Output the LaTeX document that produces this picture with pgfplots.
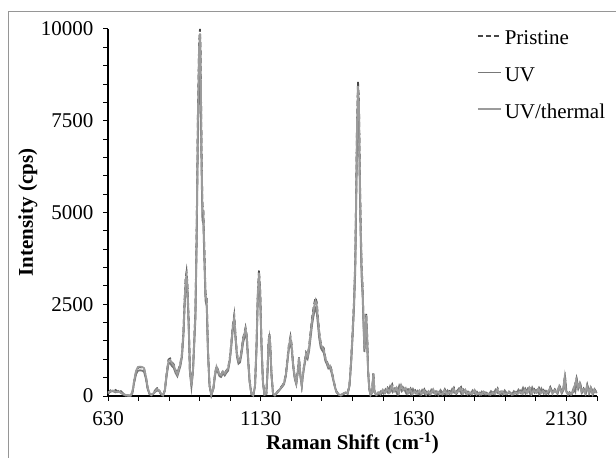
\documentclass[border=0pt]{standalone}
\usepackage{pgfplots}
\pgfplotsset{compat=1.18}
\usepackage{pgfplotstable}
\usepackage{fontspec}
\setmainfont{Liberation Serif}
\definecolor{cP}{RGB}{70,70,70}
\definecolor{cU}{RGB}{120,120,120}
\definecolor{cT}{RGB}{155,155,155}
\definecolor{frm}{RGB}{150,150,150}
\newcommand\fs{\fontsize{21bp}{25bp}\selectfont}

\pgfplotstableread{
x y
630 80
638 150
646 110
655 160
663 90
672 130
680 60
688 20
696 0
704 10
710 100
716 420
722 660
728 770
735 790
742 770
748 740
754 520
760 210
766 60
772 20
778 80
785 160
791 210
797 170
803 60
810 20
816 160
822 620
828 990
833 1020
839 920
845 860
851 700
857 600
862 760
867 900
872 1160
877 1800
881 2700
884 3200
887 3380
890 3050
894 2050
898 720
903 280
908 720
912 1500
916 2300
920 4500
924 7600
928 9600
931 10000
933 9400
936 6800
939 5200
942 5050
945 4100
949 2800
953 2650
957 1300
962 320
968 30
975 220
980 600
985 820
990 700
995 600
1000 580
1006 680
1012 620
1018 700
1023 760
1028 1000
1033 1400
1038 1900
1043 2200
1047 1700
1052 1150
1057 960
1062 1000
1067 1250
1072 1580
1076 1700
1080 1860
1084 1650
1088 1100
1093 450
1099 60
1105 20
1111 280
1116 1400
1120 2800
1124 3420
1128 2900
1132 1500
1137 400
1142 40
1148 60
1152 700
1155 1450
1158 1700
1161 1400
1165 600
1170 60
1176 20
1182 90
1188 150
1194 220
1200 280
1206 360
1212 600
1217 1000
1222 1400
1227 1620
1231 1400
1236 850
1241 520
1246 360
1251 700
1255 1050
1259 620
1264 300
1268 620
1273 920
1278 1180
1283 1100
1288 1350
1293 1750
1298 2150
1304 2480
1309 2680
1313 2550
1317 2150
1321 1750
1326 1450
1331 1350
1336 1300
1341 1050
1346 950
1351 820
1356 850
1361 720
1366 520
1371 320
1377 130
1384 50
1392 20
1400 60
1408 110
1414 80
1420 300
1425 900
1430 1700
1435 2600
1439 3700
1442 5600
1445 7600
1448 8560
1451 8100
1454 6100
1457 4600
1460 3500
1463 3000
1466 2150
1469 1300
1472 1750
1475 2250
1478 1650
1481 720
1485 210
1489 30
1494 100
1498 650
1502 120
1508 30
1515 80
1522 40
1530 150
1537 90
1545 220
1552 120
1560 310
1567 150
1575 260
1582 100
1590 330
1597 180
1605 240
1612 90
1620 200
1627 60
1635 150
1642 40
1650 120
1657 70
1665 180
1672 30
1680 110
1687 60
1695 200
1702 50
1710 140
1717 90
1725 60
1732 180
1740 40
1747 130
1755 70
1762 220
1770 60
1777 150
1785 240
1792 80
1800 190
1807 40
1815 110
1822 60
1830 180
1837 30
1845 90
1852 50
1860 140
1867 40
1875 70
1882 30
1890 100
1897 60
1905 200
1912 50
1920 150
1927 80
1935 40
1942 120
1950 60
1957 30
1965 110
1972 50
1980 140
1987 70
1995 200
2002 90
2010 250
2017 60
2025 180
2032 100
2040 220
2047 80
2055 160
2062 50
2070 120
2077 240
2085 70
2092 180
2100 90
2107 290
2114 110
2120 200
2125 560
2129 150
2135 60
2140 100
2146 30
2152 120
2158 300
2163 480
2168 250
2174 380
2180 120
2186 200
2192 80
2198 300
2204 100
2210 250
2216 60
2222 180
2228 100
}\pristine

\pgfplotstableread{
x y
630 60
638 120
646 130
655 100
663 140
672 90
680 40
688 10
696 20
704 0
710 80
716 380
722 600
728 690
735 700
742 690
748 660
754 470
760 180
766 50
772 30
778 60
785 120
791 150
797 140
803 50
810 10
816 140
822 560
828 880
833 900
839 820
845 770
851 630
857 540
862 680
867 820
872 1060
877 1650
881 2500
884 2950
887 3080
890 2800
894 1900
898 660
903 250
908 650
912 1380
916 2100
920 4100
924 6900
928 8600
931 8900
933 8400
936 6200
939 4800
942 4700
945 3800
949 2600
953 2450
957 1200
962 280
968 20
975 200
980 540
985 740
990 640
995 540
1000 520
1006 620
1012 560
1018 640
1023 690
1028 920
1033 1300
1038 1780
1043 2050
1047 1580
1052 1060
1057 880
1062 920
1067 1150
1072 1450
1076 1580
1080 1720
1084 1530
1088 1020
1093 400
1099 50
1105 10
1111 250
1116 1300
1120 2600
1124 3150
1128 2680
1132 1380
1137 360
1142 30
1148 50
1152 640
1155 1330
1158 1560
1161 1290
1165 550
1170 50
1176 10
1182 70
1188 130
1194 190
1200 250
1206 320
1212 540
1217 920
1222 1290
1227 1470
1231 1280
1236 780
1241 470
1246 320
1251 640
1255 960
1259 560
1264 270
1268 560
1273 840
1278 1080
1283 1010
1288 1230
1293 1600
1298 1960
1304 2250
1309 2380
1313 2280
1317 1940
1321 1580
1326 1320
1331 1240
1336 1180
1341 960
1346 870
1351 750
1356 770
1361 650
1366 470
1371 290
1377 110
1384 40
1392 10
1400 50
1408 90
1414 60
1420 260
1425 820
1430 1560
1435 2400
1439 3400
1442 5200
1445 7000
1448 7900
1451 7500
1454 5600
1457 4200
1460 3200
1463 2750
1466 1950
1469 1200
1472 1600
1475 2050
1478 1500
1481 650
1485 180
1489 20
1494 80
1498 560
1502 100
1508 20
1516 60
1523 130
1531 70
1538 180
1546 90
1553 260
1561 110
1568 200
1576 60
1583 280
1591 130
1598 210
1606 70
1613 170
1621 50
1628 190
1636 80
1643 140
1651 40
1658 160
1666 60
1673 120
1681 40
1688 170
1696 90
1703 130
1711 30
1718 160
1726 80
1733 50
1741 150
1748 60
1756 190
1763 90
1771 130
1778 200
1786 60
1793 170
1801 70
1808 120
1816 40
1823 150
1831 60
1838 110
1846 30
1853 120
1861 50
1868 90
1876 40
1883 130
1891 60
1898 170
1906 80
1913 120
1921 40
1928 150
1936 60
1943 90
1951 30
1958 130
1966 60
1973 170
1981 80
1988 220
1996 70
2003 190
2011 60
2018 230
2026 90
2033 160
2041 50
2048 200
2056 70
2063 140
2071 60
2078 210
2086 90
2093 150
2101 60
2108 250
2115 80
2121 180
2126 470
2130 120
2136 40
2141 90
2147 50
2153 200
2159 110
2164 420
2169 200
2175 320
2181 90
2187 170
2193 60
2199 260
2205 80
2211 200
2217 50
2223 160
2229 80
}\uv

\pgfplotstableread{
x y
630 100
638 130
646 150
655 120
663 110
672 100
680 50
688 30
696 10
704 20
710 120
716 440
722 690
728 790
735 800
742 790
748 760
754 540
760 230
766 70
772 30
778 70
785 140
791 190
797 160
803 70
810 30
816 150
822 600
828 960
833 990
839 900
845 840
851 690
857 590
862 740
867 880
872 1130
877 1760
881 2650
884 3150
887 3300
890 3000
894 2000
898 700
903 270
908 700
912 1470
916 2250
920 4400
924 7500
928 9500
931 9880
933 9300
936 6700
939 5100
942 5000
945 4050
949 2750
953 2600
957 1280
962 300
968 40
975 210
980 590
985 800
990 690
995 590
1000 570
1006 670
1012 610
1018 690
1023 750
1028 990
1033 1380
1038 1870
1043 2150
1047 1670
1052 1130
1057 950
1062 990
1067 1230
1072 1550
1076 1680
1080 1830
1084 1630
1088 1090
1093 440
1099 70
1105 30
1111 270
1116 1380
1120 2750
1124 3360
1128 2850
1132 1480
1137 390
1142 50
1148 60
1152 690
1155 1420
1158 1660
1161 1380
1165 590
1170 70
1176 30
1182 80
1188 140
1194 210
1200 270
1206 350
1212 590
1217 980
1222 1380
1227 1580
1231 1370
1236 830
1241 510
1246 350
1251 690
1255 1030
1259 610
1264 290
1268 610
1273 900
1278 1160
1283 1080
1288 1320
1293 1720
1298 2100
1304 2420
1309 2600
1313 2480
1317 2100
1321 1710
1326 1420
1331 1330
1336 1270
1341 1030
1346 930
1351 800
1356 830
1361 700
1366 510
1371 310
1377 120
1384 50
1392 30
1400 70
1408 100
1414 70
1420 290
1425 880
1430 1670
1435 2560
1439 3650
1442 5500
1445 7500
1448 8450
1451 8000
1454 6000
1457 4550
1460 3450
1463 2950
1466 2100
1469 1280
1472 1720
1475 2200
1478 1620
1481 700
1485 200
1489 40
1494 90
1498 620
1502 110
1508 40
1514 100
1521 50
1529 170
1536 80
1544 200
1551 100
1559 280
1566 130
1574 230
1581 80
1589 300
1596 160
1604 220
1611 70
1619 180
1626 50
1634 130
1641 60
1649 150
1656 50
1664 160
1671 40
1679 130
1686 50
1694 180
1701 60
1709 120
1716 70
1724 40
1731 160
1739 50
1746 110
1754 60
1761 200
1769 70
1776 130
1784 210
1791 70
1799 170
1806 50
1814 100
1821 50
1829 160
1836 40
1844 80
1851 40
1859 120
1866 50
1874 60
1881 40
1889 90
1896 50
1904 180
1911 60
1919 130
1926 70
1934 50
1941 110
1949 50
1956 40
1964 100
1971 60
1979 120
1986 60
1994 180
2001 80
2009 220
2016 50
2024 160
2031 90
2039 200
2046 70
2054 140
2061 60
2069 110
2076 210
2084 60
2091 160
2099 80
2106 260
2113 100
2119 180
2124 500
2128 140
2134 50
2139 90
2145 40
2151 110
2157 270
2162 440
2167 230
2173 350
2179 110
2185 180
2191 70
2197 280
2203 90
2209 230
2215 50
2221 170
2227 90
}\uvthermal

\begin{document}
\begin{tikzpicture}
\useasboundingbox (0bp,0bp) rectangle (616bp,458bp);
\draw[frm, line width=1bp] (8bp,-5bp) -- (8bp,446.5bp) -- (625bp,446.5bp);
\begin{axis}[
  at={(108bp,62bp)}, anchor=south west,
  scale only axis, width=489bp, height=367bp,
  xmin=630, xmax=2230, ymin=0, ymax=10000,
  clip=false,
  axis x line=bottom, axis y line=left,
  axis line style={-, line width=1.2bp, black},
  xtick={630,1130,1630,2130},
  minor xtick={730,830,930,1030,1230,1330,1430,1530,1730,1830,1930,2030,2230},
  ytick={0,2500,5000,7500,10000},
  minor ytick={500,1000,1500,2000,3000,3500,4000,4500,5500,6000,6500,7000,8000,8500,9000,9500},
  tick align=outside, major tick length=5bp, minor tick length=5bp,
  tick style={black, line width=1bp},
  scaled y ticks=false, scaled x ticks=false,
  /pgf/number format/assume math mode=true,
  xticklabel style={font=\fs, yshift=-7bp, /pgf/number format/1000 sep={}},
  yticklabel style={font=\fs, xshift=-6bp, /pgf/number format/fixed, /pgf/number format/1000 sep={}},
  xlabel={\textbf{Raman Shift (cm\textsuperscript{-1})}},
  ylabel={\textbf{Intensity (cps)}},
  xlabel style={font=\fs, at={(axis description cs:0.5,-0.1471)}, anchor=base},
  ylabel style={font=\fs, at={(axis description cs:-0.1534,0.5)}, anchor=base},
  legend style={at={(axis description cs:0.7546,0.995)}, anchor=north west, draw=none, fill=none,
    font=\fs, row sep=21bp, column sep=3bp, inner sep=0pt, nodes={inner sep=0pt}},
  legend cell align=left,
  legend image code/.code={\draw[#1, line width=1.6bp] (0bp,0.25em) -- (23bp,0.25em);},
]
\addplot[cP, line width=1.8bp, dash pattern=on 5bp off 3bp] table {\pristine};
\addlegendentry{Pristine}
\addplot[cU, line width=1.8bp] table {\uv};
\addlegendentry{UV}
\addplot[cT, line width=1.8bp] table {\uvthermal};
\addlegendentry{UV/thermal}
\end{axis}
\end{tikzpicture}
\end{document}
